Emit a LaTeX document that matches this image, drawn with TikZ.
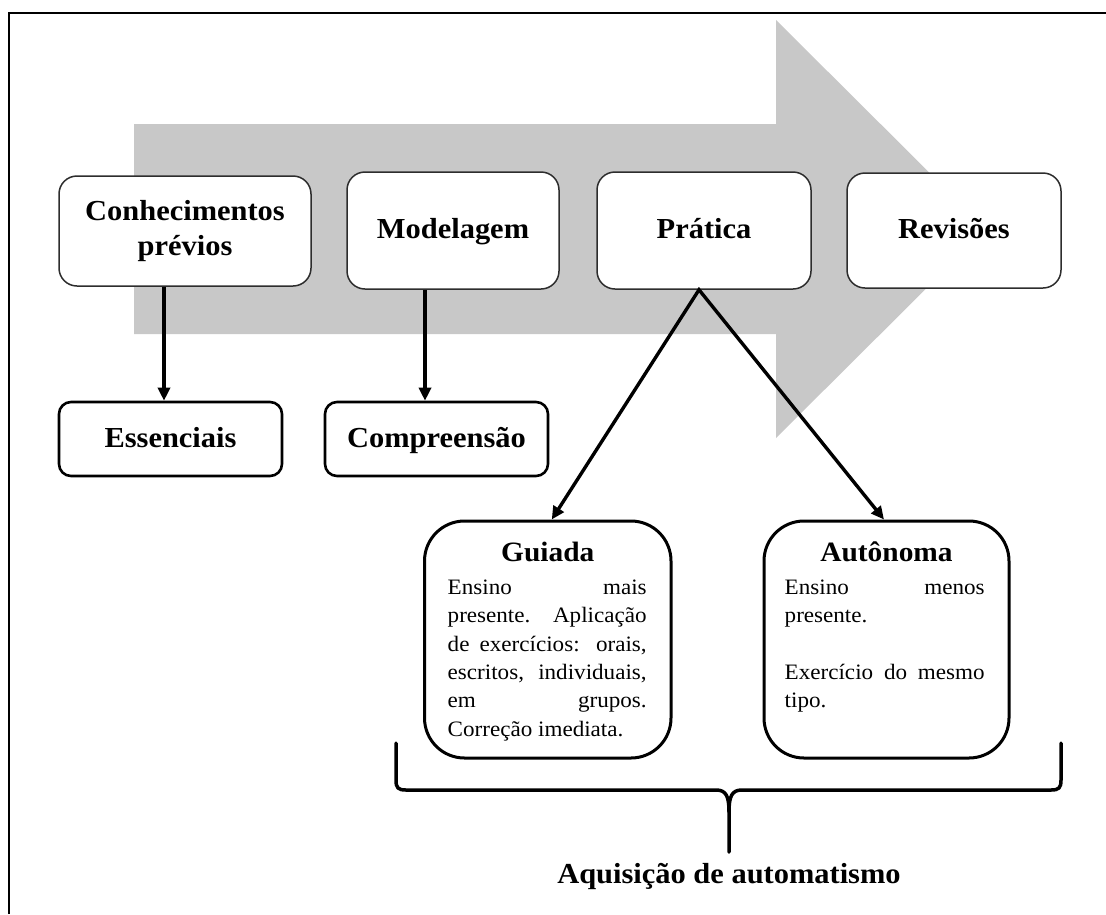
\documentclass[tikz,border=0pt]{standalone}
\usepackage{fontspec}
\setmainfont{Liberation Serif}[FakeStretch=1.05]
\usetikzlibrary{arrows.meta,calc}
\definecolor{flowgrey}{RGB}{200,200,200}
\definecolor{edgegrey}{RGB}{45,45,45}
% one justified line of a text block
\newcommand{\jline}[1]{\makebox[\linewidth][s]{#1}\par}
\begin{document}
\begin{tikzpicture}[x=1pt,y=-1pt,
  stage/.style={draw=edgegrey, line width=1.5pt, fill=white, rounded corners=18pt,
    inner sep=0pt, align=center, font=\fontsize{29}{29.5}\selectfont\bfseries},
  oneline/.style={text height=21pt, text depth=5pt},
  sub/.style={draw=black, line width=2.6pt, fill=white, rounded corners=12pt,
    minimum width=223pt, minimum height=74pt, inner sep=0pt,
    text height=21pt, text depth=4pt, font=\fontsize{29}{29.5}\selectfont\bfseries},
  mode/.style={draw=black, line width=3pt, fill=white, rounded corners=40pt,
    minimum height=237pt, inner sep=0pt},
  modetitle/.style={anchor=base, inner sep=0pt, font=\fontsize{28}{28}\selectfont\bfseries},
  body/.style={anchor=base west, inner sep=0pt, font=\fontsize{22}{28.3}\selectfont},
  link/.style={line width=3.8pt, -{Triangle[length=13pt,width=12pt]}},
  brace/.style={line width=3.5pt, line cap=round, line join=round}]
\useasboundingbox (0,0) rectangle (1106,914);

% frame
\draw[line width=2pt] (9,914) -- (9,13) -- (1106,13);

% large flow arrow in the background
\fill[flowgrey] (134,124) -- (776,124) -- (776,20) -- (986,229) -- (776,438)
  -- (776,334) -- (134,334) -- cycle;

% stages
\node[stage, minimum width=252pt, minimum height=110pt] (conh) at (185,231)
  {Conhecimentos\\[6pt]prévios};
\node[stage, oneline, minimum width=212pt, minimum height=117pt] (model) at (453,230.5) {Modelagem};
\node[stage, oneline, minimum width=214pt, minimum height=117pt] (prat) at (704,230.5) {Prática};
\node[stage, oneline, minimum width=214pt, minimum height=115pt] (rev) at (954,230.5) {Revisões};

% outcomes of the first two stages
\node[sub] (ess) at (170.5,439) {Essenciais};
\node[sub] (comp) at (436.5,439) {Compreensão};

% kinds of practice
\node[mode, minimum width=246.5pt] (guiada) at (547.75,639.5) {};
\node[mode, minimum width=245pt] (auton) at (886.5,639.5) {};

\node[modetitle] (guiadaT) at ($(guiada.north)+(0,42)$) {Guiada};
\node[body] (guiadaB) at ($(guiada.north west)+(24.5,75)$) {\parbox[t]{199pt}{%
  \jline{Ensino mais}
  \jline{presente. Aplicação}
  \jline{de exercícios: orais,}
  \jline{escritos, individuais,}
  \jline{em grupos.}
  Correção imediata.}};

\node[modetitle] (autonT) at ($(auton.north)+(0,42)$) {Autônoma};
\node[body] (autonB) at ($(auton.north west)+(22,75)$) {\parbox[t]{200pt}{%
  \jline{Ensino menos}
  presente.\par
  \mbox{}\par
  \jline{Exercício do mesmo}
  tipo.}};

% connectors
\draw[link] ([xshift=-21pt]conh.south) -- ([xshift=-21pt]conh.south |- ess.north);
\draw[link] ([xshift=-28pt]model.south) -- ([xshift=-28pt]model.south |- comp.north);
\draw[line width=3.4pt, line join=miter, {Triangle[length=13pt,width=12pt]}-{Triangle[length=13pt,width=12pt]}]
  ([xshift=4pt]guiada.north) -- ([xshift=-5pt]prat.south) -- ([xshift=-2.5pt]auton.north);

% brace gathering both kinds of practice
\coordinate (bl) at (396,743);
\coordinate (br) at (1061,743);
\coordinate (bm) at (729,852);
\draw[brace] (bl) -- (396,780) .. controls (396,788) and (398,790) .. (406,790)
  -- (716,790) .. controls (726,790) and (729,796) .. (729,812) -- (bm);
\draw[brace] (729,812) .. controls (729,796) and (732,790) .. (742,790)
  -- (1051,790) .. controls (1059,790) and (1061,788) .. (1061,780) -- (br);

\node[anchor=base, inner sep=0pt, font=\fontsize{29}{29}\selectfont\bfseries] (aq)
  at (729,883) {Aquisição de automatismo};
\end{tikzpicture}
\end{document}
